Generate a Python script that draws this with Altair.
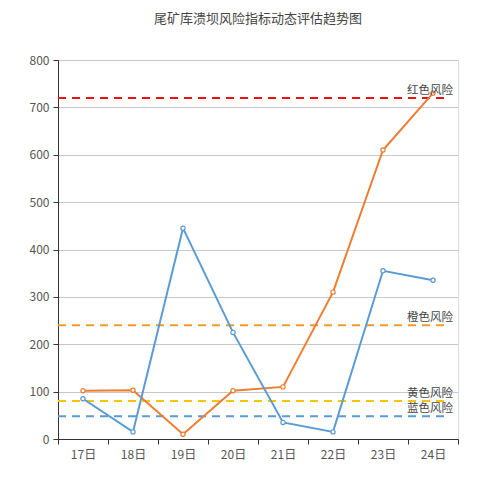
import altair as alt
import pandas as pd

DAYS = ["17日", "18日", "19日", "20日", "21日", "22日", "23日", "24日"]
BLUE_VALUES = [85, 15, 445, 225, 35, 15, 355, 335]
ORANGE_VALUES = [102, 103, 10, 102, 110, 310, 610, 730]

RISK_NAMES = ["红色风险", "橙色风险", "黄色风险", "蓝色风险"]
RISK_LEVELS = [720, 240, 80, 48]
RISK_COLORS = ["#ee1111", "#f39a2c", "#f7c400", "#5b9bd5"]

FONT = "Noto Sans CJK SC"

series = pd.DataFrame(
    [{"day": d, "value": v, "series": "指标B"} for d, v in zip(DAYS, ORANGE_VALUES)]
    + [{"day": d, "value": v, "series": "指标A"} for d, v in zip(DAYS, BLUE_VALUES)]
)
series["order"] = series["series"].map({"指标B": 0, "指标A": 1})
risks = pd.DataFrame({"name": RISK_NAMES, "level": RISK_LEVELS})

y_scale = alt.Scale(domain=[0, 800])

lines = (
    alt.Chart(series)
    .mark_line(
        strokeWidth=2,
        point=alt.OverlayMarkDef(filled=False, fill="white", size=18, strokeWidth=1.2),
    )
    .encode(
        x=alt.X(
            "day:N",
            sort=DAYS,
            title=None,
            scale=alt.Scale(type="band", paddingInner=0, paddingOuter=0),
            axis=alt.Axis(
                labelAngle=0,
                tickBand="extent",
                domainColor="#333",
                tickColor="#333",
                tickSize=5,
                labelColor="#555",
                labelFont=FONT,
                labelFontSize=12,
                labelPadding=5,
            ),
        ),
        y=alt.Y(
            "value:Q",
            title=None,
            scale=y_scale,
            axis=alt.Axis(
                values=list(range(0, 801, 100)),
                domainColor="#333",
                tickColor="#333",
                tickSize=5,
                gridColor="#c8c8c8",
                labelColor="#555",
                labelFont=FONT,
                labelFontSize=12,
                labelPadding=4,
            ),
        ),
        color=alt.Color(
            "series:N",
            scale=alt.Scale(domain=["指标A", "指标B"], range=["#5b9bd5", "#ed7d31"]),
            legend=None,
        ),
        detail="series:N",
        order="order:Q",
    )
)

rules = (
    alt.Chart(risks)
    .mark_rule(strokeWidth=2, strokeDash=[8, 6])
    .encode(
        y=alt.Y("level:Q", scale=y_scale),
        x=alt.value(0),
        x2=alt.value(392),
        color=alt.Color(
            "name:N",
            scale=alt.Scale(domain=RISK_NAMES, range=RISK_COLORS),
            legend=None,
        ),
    )
)

labels = (
    alt.Chart(risks)
    .mark_text(align="right", baseline="bottom", dy=-2, font=FONT, fontSize=11.5, color="#444")
    .encode(
        y=alt.Y("level:Q", scale=y_scale),
        x=alt.value(395),
        text="name:N",
    )
)

chart = (
    alt.layer(rules, lines, labels)
    .resolve_scale(color="independent")
    .properties(
        width=400,
        height=379,
        autosize=alt.AutoSizeParams(type="none"),
        padding={"left": 50, "top": 52, "right": 34, "bottom": 53},
        title=alt.TitleParams(
            "尾矿库溃坝风险指标动态评估趋势图",
            font=FONT,
            fontSize=13,
            fontWeight="normal",
            color="#444",
            frame="group",
            baseline="top",
            offset=28,
        ),
    )
    .configure_view(stroke=None)
    .configure(background="white")
)

chart.save("out.html", embed_options={"renderer": "svg", "actions": False})
